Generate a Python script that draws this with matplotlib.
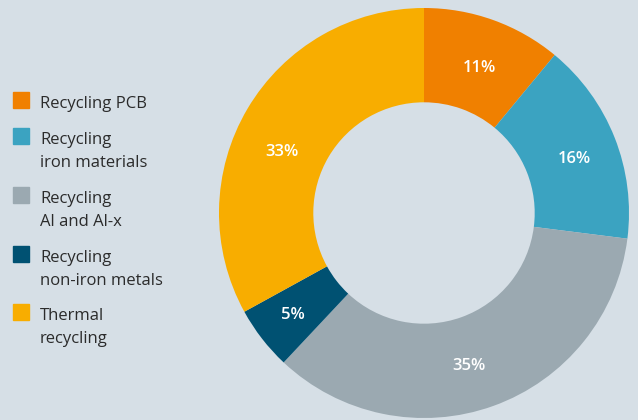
import numpy as np
import matplotlib.pyplot as plt
from matplotlib.patches import Rectangle

# recycling shares, clockwise from the top
labels = ["Recycling PCB", "Recycling\niron materials", "Recycling\nAl and Al-x",
          "Recycling\nnon-iron metals", "Thermal\nrecycling"]
shares = [11, 16, 35, 5, 33]
colors = ["#f08000", "#3ba3c1", "#9ba9b1", "#005172", "#f8ad00"]

# where the percentage sits in each ring segment (degrees, fraction of radius)
label_angle = [69, 19.7, -73.6, -142, 156.8]
label_rad = [0.76, 0.78, 0.78, 0.81, 0.755]

bg = "#d6dfe6"
plt.rcParams['font.family'] = ['Open Sans', 'DejaVu Sans']

fig = plt.figure(figsize=(6.38, 4.20), dpi=100, facecolor=bg)
W, H = 638, 420

# donut: centre (424, 213) px, outer radius 205 px
cx, cy, r = 424, 213, 205
ax = fig.add_axes([(cx - r) / W, (H - cy - r) / H, 2 * r / W, 2 * r / H])
ax.set_facecolor(bg)
wedges, texts, autotexts = ax.pie(
    shares, colors=colors, startangle=90, counterclock=False,
    radius=1.0, wedgeprops=dict(width=0.46, linewidth=0),
    autopct=lambda p: f"{p:.0f}%", pctdistance=0.77,
    textprops=dict(color="white", fontsize=12, fontweight="semibold"))
for t, a, rr in zip(autotexts, label_angle, label_rad):
    t.set_position((rr * np.cos(np.radians(a)), rr * np.sin(np.radians(a))))
ax.set_xlim(-1, 1)
ax.set_ylim(-1, 1)
ax.set_aspect("equal")
ax.axis("off")

# legend drawn by hand so the swatch sits on the first text line
tops = [92, 128, 187, 246, 304]
for top, lab, col in zip(tops, labels, colors):
    fig.patches.append(Rectangle((13 / W, (H - top - 16) / H), 16 / W, 16 / H,
                                 transform=fig.transFigure, color=col))
    for i, line in enumerate(lab.split("\n")):
        base = top + 16 + i * 23
        fig.text(40 / W, (H - base) / H, line, fontsize=12, color="#2b2b2b",
                 va="baseline", ha="left")

fig.savefig("out.png", dpi=100, facecolor=bg)
